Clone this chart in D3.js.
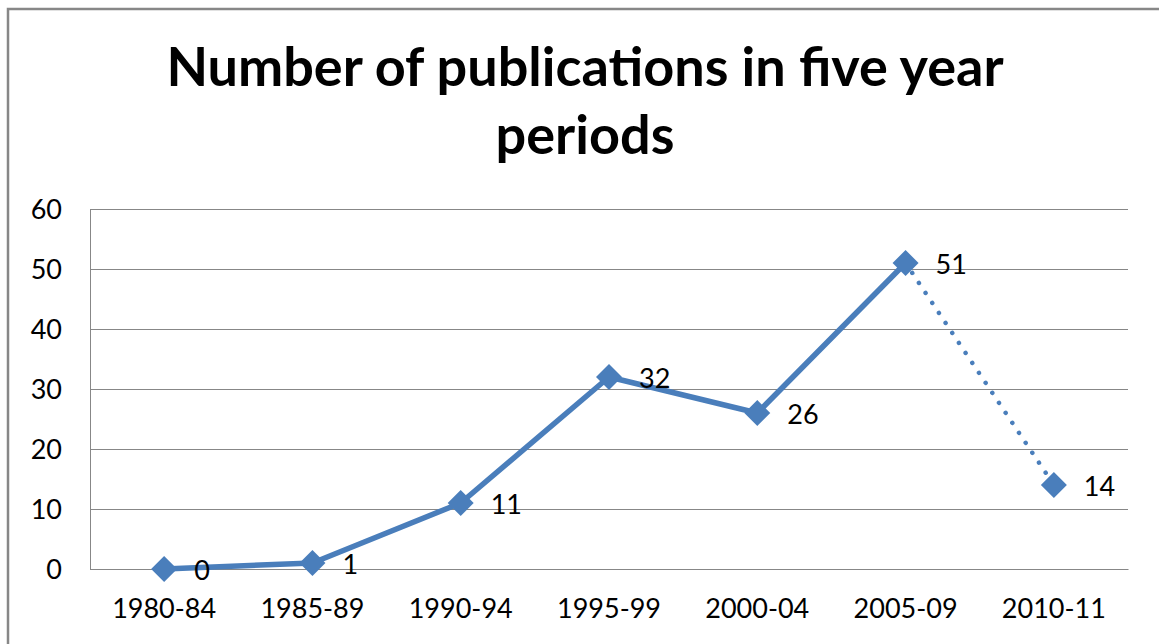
<!DOCTYPE html>
<html lang="en">
<head>
    <meta charset="UTF-8">
    <title>Number of publications in five year periods</title>
    <script src="https://cdn.jsdelivr.net/npm/d3@7"></script>
    <style type="text/css">
        body { margin: 0; background: #fff; }
        svg text { font-family: Lato, "Open Sans", sans-serif; fill: #000; }
        .axis path, .axis line { fill: none; stroke: #878787; }
        .grid line { stroke: #878787; }
        .grid path { display: none; }
    </style>
</head>
<body>
    <script>
        const periods = ["1980-84", "1985-89", "1990-94", "1995-99", "2000-04", "2005-09", "2010-11"];
        const publications = [0, 1, 11, 32, 26, 51, 14];
        const yTicks = [0, 10, 20, 30, 40, 50, 60];
        const titleLines = ["Number of publications in five year", "periods"];

        let w = 1159;
        let h = 644;
        let plotLeft = 90, plotRight = 1128, plotTop = 209, plotBottom = 569;
        let blue = "#4a7ebb";

        let data = periods.map((p, i) => ({ period: p, value: publications[i] }));

        let svg = d3.select("body")
            .append("svg")
            .attr("width", w)
            .attr("height", h);

        // outer chart frame (runs off the right/bottom edge like the original)
        svg.append("rect")
            .attr("x", 8)
            .attr("y", 9)
            .attr("width", w + 20)
            .attr("height", h + 20)
            .attr("fill", "none")
            .attr("stroke", "#878787")
            .attr("stroke-width", 2.5);

        svg.selectAll(".title")
            .data(titleLines)
            .enter()
            .append("text")
            .attr("class", "title")
            .attr("x", 585)
            .attr("y", (d, i) => 86 + i * 68)
            .attr("text-anchor", "middle")
            .style("font-size", "54px")
            .style("font-weight", "bold")
            .text(d => d);

        let xScale = d3.scaleBand()
            .domain(periods)
            .range([plotLeft, plotRight])
            .padding(0);

        let yScale = d3.scaleLinear()
            .domain([0, 60])
            .range([plotBottom, plotTop]);

        let cx = d => xScale(d.period) + xScale.bandwidth() / 2;

        // horizontal gridlines
        svg.append("g")
            .attr("class", "grid")
            .attr("transform", "translate(" + plotLeft + ",0)")
            .call(d3.axisLeft(yScale).tickValues(yTicks).tickSize(-(plotRight - plotLeft)).tickFormat(""));

        let yAxis = d3.axisLeft(yScale)
            .tickValues(yTicks)
            .tickSize(0)
            .tickSizeOuter(0)
            .tickPadding(28);

        svg.append("g")
            .attr("class", "y axis")
            .attr("transform", "translate(" + plotLeft + ",0)")
            .call(yAxis)
            .selectAll("text")
            .style("font-size", "27px")
            .attr("dy", "0.35em");

        let xAxis = d3.axisBottom(xScale).tickSize(0).tickSizeOuter(0);

        svg.append("g")
            .attr("class", "x axis")
            .attr("transform", "translate(0," + plotBottom + ")")
            .call(xAxis)
            .selectAll("text")
            .style("font-size", "27px")
            .attr("y", 49)
            .attr("dy", 0);

        let line = d3.line()
            .x(cx)
            .y(d => yScale(d.value));

        // solid part up to 2005-09, dotted for the incomplete 2010-11 period
        svg.append("path")
            .datum(data.slice(0, 6))
            .attr("d", line)
            .attr("fill", "none")
            .attr("stroke", blue)
            .attr("stroke-width", 5.5)
            .attr("stroke-linejoin", "round");

        svg.append("path")
            .datum(data.slice(5))
            .attr("d", line)
            .attr("fill", "none")
            .attr("stroke", blue)
            .attr("stroke-width", 4.5)
            .attr("stroke-linecap", "round")
            .attr("stroke-dasharray", "0.01 12");

        let r = 13;
        svg.selectAll(".marker")
            .data(data)
            .enter()
            .append("path")
            .attr("class", "marker")
            .attr("d", "M0," + (-r) + "L" + r + ",0L0," + r + "L" + (-r) + ",0Z")
            .attr("transform", d => "translate(" + cx(d) + "," + yScale(d.value) + ")")
            .attr("fill", blue);

        svg.selectAll(".label")
            .data(data)
            .enter()
            .append("text")
            .attr("class", "label")
            .attr("x", d => cx(d) + 30)
            .attr("y", d => yScale(d.value) + 2)
            .attr("dy", "0.35em")
            .style("font-size", "27px")
            .text(d => d.value);
    </script>
</body>
</html>
